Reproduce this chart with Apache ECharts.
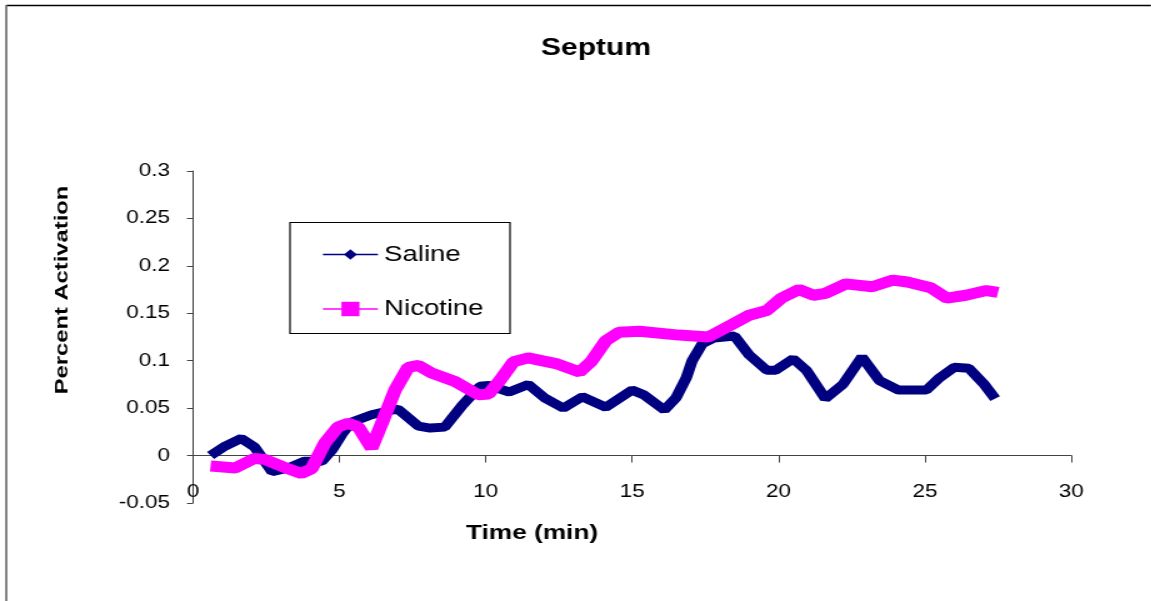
<!DOCTYPE html>
<html>
<head>
<meta charset="utf-8">
<script src="https://cdn.jsdelivr.net/npm/echarts@6/dist/echarts.min.js"></script>
<style>
html,body{margin:0;padding:0;background:#fff;overflow:hidden;width:1151px;height:601px;}
#chart{position:absolute;left:0;top:0;height:601px;transform-origin:0 0;}
</style>
</head>
<body>
<div id="chart"></div>
<script>
// ---- data ----
const titleText = 'Septum';
const xAxisName = 'Time (min)';
const yAxisName = 'Percent Activation';
const seriesNames = ['Saline', 'Nicotine'];
const xTicks = {min: 0, max: 30, interval: 5};
const yTicks = {min: -0.05, max: 0.3, interval: 0.05};

const salineTime = [0.6, 1.1, 1.65, 2.1, 2.7, 3.25, 3.8, 4.4, 4.75, 5.1, 5.4, 6.1, 6.8, 7.0, 7.7, 8.1, 8.6, 9.2, 9.8, 10.1, 10.8, 11.45, 12.0, 12.65, 13.3, 14.1, 15.0, 15.4, 16.1, 16.5, 16.85, 17.05, 17.4, 17.8, 18.5, 19.0, 19.6, 19.9, 20.5, 20.95, 21.6, 22.2, 22.85, 23.45, 24.1, 25.05, 25.5, 26.0, 26.5, 27.0, 27.4];
const salineValues = [0.0, 0.01, 0.018, 0.009, -0.017, -0.013, -0.006, -0.006, 0.006, 0.023, 0.035, 0.043, 0.048, 0.049, 0.031, 0.029, 0.03, 0.053, 0.073, 0.074, 0.067, 0.075, 0.061, 0.05, 0.062, 0.051, 0.069, 0.064, 0.048, 0.061, 0.082, 0.1, 0.118, 0.124, 0.126, 0.106, 0.09, 0.09, 0.102, 0.09, 0.06, 0.075, 0.104, 0.079, 0.069, 0.069, 0.082, 0.093, 0.092, 0.076, 0.06];

const nicotineTime = [0.6, 1.45, 2.1, 2.45, 3.25, 3.7, 4.05, 4.5, 4.95, 5.3, 5.65, 6.1, 6.45, 6.9, 7.35, 7.7, 8.15, 8.95, 9.75, 10.1, 10.5, 10.95, 11.45, 12.4, 13.2, 13.6, 14.1, 14.55, 15.25, 16.6, 17.6, 18.4, 19.0, 19.6, 20.1, 20.7, 21.2, 21.6, 22.3, 23.2, 23.9, 24.4, 25.2, 25.75, 26.4, 27.1, 27.5];
const nicotineValues = [-0.011, -0.013, -0.003, -0.004, -0.014, -0.019, -0.014, 0.013, 0.03, 0.034, 0.03, 0.008, 0.034, 0.069, 0.093, 0.095, 0.087, 0.078, 0.064, 0.065, 0.08, 0.099, 0.103, 0.097, 0.088, 0.099, 0.121, 0.13, 0.131, 0.127, 0.125, 0.138, 0.148, 0.153, 0.166, 0.175, 0.169, 0.171, 0.181, 0.178, 0.185, 0.183, 0.177, 0.166, 0.169, 0.174, 0.172];

// ---- layout ----
const S = 1.25;               // horizontal stretch of the original rendering
const W = 1151 / S;
const el = document.getElementById('chart');
el.style.width = W + 'px';
el.style.transform = 'scaleX(' + S + ')';
const FONT = "'Liberation Sans', Arial, sans-serif";

const chart = echarts.init(el, null, {renderer: 'canvas'});

function pairs(xs, ys) { return xs.map((x, i) => [x, ys[i]]); }

const option = {
  backgroundColor: '#fff',
  animation: false,
  grid: {left: 193 / S, right: W - 1071 / S, top: 171, bottom: 601 - 503},
  xAxis: {
    type: 'value', min: xTicks.min, max: xTicks.max, interval: xTicks.interval,
    axisLine: {onZero: true, lineStyle: {color: '#444', width: 1}},
    axisTick: {show: true, inside: false, length: 7, lineStyle: {color: '#444'}},
    axisLabel: {margin: -20, color: '#000', fontSize: 18, fontFamily: FONT},
    splitLine: {show: false}
  },
  yAxis: {
    type: 'value', min: yTicks.min, max: yTicks.max, interval: yTicks.interval,
    axisLine: {show: true, lineStyle: {color: '#444', width: 1}},
    axisTick: {show: true, inside: false, length: 6 / S, lineStyle: {color: '#444'}},
    axisLabel: {margin: 18.4, color: '#000', fontSize: 18, fontFamily: FONT},
    splitLine: {show: false}
  },
  legend: [
    {data: [seriesNames[0]], left: 322 / S, top: 250 - 6.5, padding: 0, itemWidth: 55 / S, itemHeight: 13,
     lineStyle: {width: 1.5}, textStyle: {fontSize: 22, fontFamily: FONT, color: '#000'}},
    {data: [seriesNames[1]], left: 322 / S, top: 307 - 9, padding: 0, itemWidth: 55 / S, itemHeight: 18,
     lineStyle: {width: 1.5}, textStyle: {fontSize: 22, fontFamily: FONT, color: '#000'}}
  ],
  graphic: [
    {type: 'line', shape: {x1: 5, y1: 5.5, x2: W, y2: 5.5}, style: {stroke: '#000', lineWidth: 1.5}, silent: true},
    {type: 'line', shape: {x1: 6.3 / S, y1: 5, x2: 6.3 / S, y2: 601}, style: {stroke: '#666', lineWidth: 2 / S}, silent: true},
    {type: 'rect', shape: {x: 290 / S, y: 222.5, width: 220 / S, height: 111}, style: {stroke: '#000', fill: 'none', lineWidth: 1.2}, silent: true},
    {type: 'text', x: 596 / S, y: 48, style: {text: titleText, font: 'bold 24px ' + FONT, fill: '#000', align: 'center', verticalAlign: 'middle'}, silent: true},
    {type: 'text', x: 532 / S, y: 533, style: {text: xAxisName, font: 'bold 21px ' + FONT, fill: '#000', align: 'center', verticalAlign: 'middle'}, silent: true},
    {type: 'text', x: 62 / S, y: 290, rotation: Math.PI / 2, scaleX: S, scaleY: 1 / S,
     style: {text: yAxisName, font: 'bold 19px ' + FONT, fill: '#000', align: 'center', verticalAlign: 'middle'}, silent: true}
  ],
  series: [
    {name: seriesNames[0], type: 'line', data: pairs(salineTime, salineValues), symbol: 'diamond', showSymbol: false,
     itemStyle: {color: '#000080'}, lineStyle: {color: '#000080', width: 9}, z: 2},
    {name: seriesNames[1], type: 'line', data: pairs(nicotineTime, nicotineValues), symbol: 'rect', showSymbol: false,
     itemStyle: {color: '#FF00FF'}, lineStyle: {color: '#FF00FF', width: 11}, z: 3}
  ]
};
chart.setOption(option);
</script>
</body>
</html>
